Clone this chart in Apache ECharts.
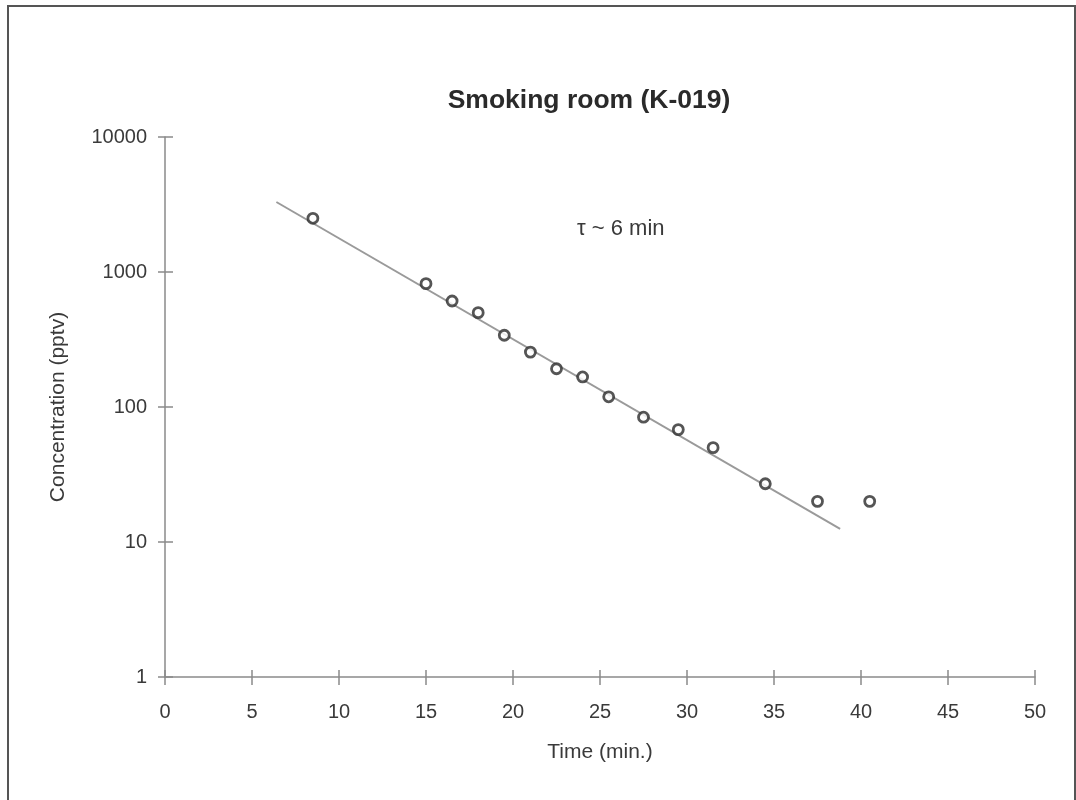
<!DOCTYPE html>
<html>
<head>
<meta charset="utf-8">
<script src="https://cdn.jsdelivr.net/npm/echarts@6/dist/echarts.min.js"></script>
<style>
  html, body { margin: 0; padding: 0; background: #fff; }
  #main { width: 1076px; height: 800px; }
</style>
</head>
<body>
<div id="main"></div>
<script>
// measured points (time in min, concentration in pptv)
var timeMin = [8.5, 15, 16.5, 18, 19.5, 21, 22.5, 24, 25.5, 27.5, 29.5, 31.5, 34.5, 37.5, 40.5];
var concPptv = [2500, 820, 610, 500, 340, 255, 192, 167, 119, 84, 68, 50, 27, 20, 20];
// exponential fit end points
var fitTime = [6.4, 38.8];
var fitConc = [3300, 12.5];

var dom = document.getElementById('main');
var chart = echarts.init(dom);

var font = 'Liberation Sans, Arial, Helvetica, sans-serif';
var axisGray = '#8a8a8a';
var textColor = '#3a3a3a';

var points = timeMin.map(function (t, i) { return [t, concPptv[i]]; });
var fitLine = fitTime.map(function (t, i) { return [t, fitConc[i]]; });

var option = {
  backgroundColor: '#fff',
  animation: false,
  title: {
    text: 'Smoking room (K-019)',
    left: 584,
    top: 82,
    textAlign: 'center',
    textStyle: { fontFamily: font, fontSize: 26.5, fontWeight: 'bold', color: '#2a2a2a' }
  },
  grid: { left: 165, right: 41, top: 137, bottom: 123 },
  xAxis: [{
    type: 'value',
    min: 0, max: 50, interval: 5,
    name: 'Time (min.)',
    nameLocation: 'middle',
    nameGap: 65,
    nameTextStyle: { fontFamily: font, fontSize: 21, color: textColor },
    axisLine: { lineStyle: { color: axisGray, width: 1.5 } },
    axisTick: { length: 8, lineStyle: { color: axisGray, width: 1.5 } },
    axisLabel: { fontFamily: font, fontSize: 20, color: textColor, margin: 25 },
    splitLine: { show: false }
  }, {
    type: 'value',
    position: 'bottom',
    min: 0, max: 50, interval: 5,
    axisLine: { show: false },
    axisTick: { inside: true, length: 7, lineStyle: { color: axisGray, width: 1.5 } },
    axisLabel: { show: false },
    splitLine: { show: false }
  }],
  yAxis: [{
    type: 'log',
    logBase: 10,
    min: 1, max: 10000,
    name: 'Concentration (pptv)',
    nameLocation: 'middle',
    nameGap: 96,
    nameTextStyle: { fontFamily: font, fontSize: 21, color: textColor },
    axisLine: { show: true, lineStyle: { color: axisGray, width: 1.5 } },
    axisTick: { show: true, length: 7, lineStyle: { color: axisGray, width: 1.5 } },
    axisLabel: {
      fontFamily: font, fontSize: 20, color: textColor, margin: 18,
      formatter: function (v) { return String(Math.round(v)); }
    },
    splitLine: { show: false }
  }, {
    type: 'log',
    logBase: 10,
    position: 'left',
    min: 1, max: 10000,
    axisLine: { show: false },
    axisTick: { show: true, inside: true, length: 8, lineStyle: { color: axisGray, width: 1.5 } },
    axisLabel: { show: false },
    splitLine: { show: false }
  }],
  series: [{
    type: 'line',
    data: fitLine,
    symbol: 'none',
    lineStyle: { color: '#9a9a9a', width: 2 },
    z: 2
  }, {
    type: 'scatter',
    data: points,
    symbol: 'circle',
    symbolSize: 10,
    itemStyle: { color: '#fff', borderColor: '#2a2a2a', borderWidth: 2.8 },
    z: 3
  }],
  graphic: [{
    type: 'rect',
    shape: { x: 8, y: 6, width: 1067, height: 800 },
    style: { fill: 'none', stroke: '#555', lineWidth: 2 },
    silent: true
  }, {
    type: 'text',
    left: 577,
    top: 218,
    style: { text: 'τ ~ 6 min', fontFamily: font, fontSize: 22, fill: textColor }
  }]
};

chart.setOption(option);
</script>
</body>
</html>
